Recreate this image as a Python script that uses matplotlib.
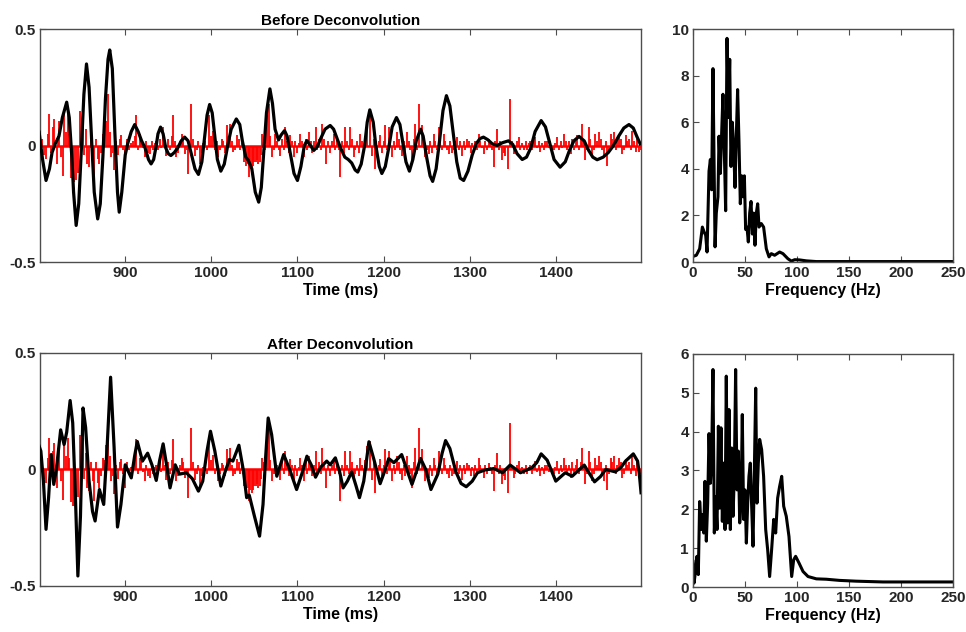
import numpy as np
import matplotlib.pyplot as plt

plt.rcParams['font.family'] = ['Liberation Sans', 'DejaVu Sans']
plt.rcParams['font.weight'] = 'bold'
plt.rcParams['axes.unicode_minus'] = False

# reflectivity spikes (ms, amplitude), same series in both panels
refl_t = [800.8, 807.8, 811.7, 815.6, 817.5, 820.2, 823.3, 827.2, 829.2, 833.1,
          837, 839, 841, 843, 845, 847.9, 850.6, 854.5, 855.3, 858.4,
          864.2, 870, 873.9, 877.8, 879.8, 883.7, 887.5, 895.3, 899.2, 909,
          912.8, 916.7, 922.6, 928.4, 936.2, 944, 947.9, 955.6, 959.5, 965.4,
          969.3, 973.2, 975.9, 980.9, 986.8, 992.6, 997.7, 1002.3, 1008.2, 1012.1,
          1017.9, 1021.8, 1025.7, 1029.6, 1037.4, 1040.5, 1043.2, 1045.1, 1047.1, 1049.8,
          1052.9, 1056, 1058.8, 1064.6, 1066.5, 1070.4, 1074.3, 1080.2, 1086, 1091.8,
          1095.7, 1103.5, 1107.4, 1113.2, 1121, 1128.8, 1132.7,
          1141.9, 1149.6, 1155.4, 1161.2, 1165.1, 1172.9, 1180.6, 1183.7, 1186.4, 1190.3,
          1196.1, 1201.9, 1205.8, 1209.7, 1215.5, 1221.3, 1227.1, 1232.9, 1236.8, 1241.5,
          1244.6, 1248.4, 1252.3, 1258.1, 1264, 1269.8, 1275.6, 1281.4, 1285.3, 1291.1,
          1296.9, 1304.7, 1310.5, 1316.3, 1322.1, 1327.9, 1331.8, 1337.6, 1341.5, 1344.6,
          1346.5, 1351.2, 1357, 1362.8, 1370.5, 1376.4, 1382.2, 1389.9, 1395.7, 1401.6,
          1409.3, 1417.1, 1424.8, 1430.6, 1434.5, 1438.4, 1442.2, 1446.1, 1450, 1455.8,
          1459.7, 1463.6, 1467.4, 1473.3, 1477.1, 1481, 1488.8, 1492.6, 1496.5]
refl_a = [-0.029, -0.06, 0.136, 0.079, 0.114, -0.079, 0.107, -0.129, 0.136, 0.136,
          -0.14, -0.157, -0.157, -0.15, -0.12, 0.15, 0.136, 0.07, -0.08, -0.093,
          -0.136, -0.079, 0.05, 0.107, 0.221, -0.05, -0.107, 0.043, -0.079, 0.021,
          0.129, 0.05, -0.05, -0.036, 0.021, 0.079, -0.043, 0.129, -0.05, 0.05,
          -0.036, -0.121, 0.179, -0.043, -0.079, 0.021, 0.129, 0.064, -0.05, 0.029,
          0.086, 0.093, -0.029, 0.043, -0.07, -0.09, -0.136, -0.09, -0.1, -0.07,
          -0.064, -0.07, 0.05, 0.129, 0.179, -0.05, 0.05, -0.043, 0.079, 0.043,
          -0.05, 0.05, -0.05, 0.057, 0.079, 0.093, -0.079,
          0.05, -0.136, 0.079, 0.079, -0.05, 0.05, 0.1, 0.121, -0.043, -0.1,
          0.043, 0.086, 0.079, -0.05, 0.057, -0.043, 0.057, -0.079, 0.093, 0.179,
          0.086, -0.05, -0.036, 0.05, 0.079, 0.05, -0.036, -0.021, 0.036, -0.043,
          0.029, -0.029, 0.05, -0.036, 0.029, -0.093, 0.071, -0.064, -0.043, -0.1,
          0.2, -0.036, 0.036, -0.021, 0.021, 0.036, -0.029, 0.021, -0.021, 0.036,
          0.05, -0.036, 0.043, 0.093, -0.064, 0.079, -0.05, 0.05, 0.057, -0.05,
          -0.086, 0.05, 0.057, 0.05, -0.036, 0.043, 0.064, -0.029, -0.029]

# the smaller spikes between the ones above
refl_small = [(803, 0.03), (805.5, -0.04), (809.8, 0.05), (813.6, -0.03), (821.8, 0.04),
              (825.2, -0.05), (831.2, 0.06), (835, 0.05), (852.5, -0.04), (860.5, 0.03),
              (862.3, -0.05), (866, 0.03), (868, -0.06), (872, -0.03), (875.8, 0.04),
              (881.8, 0.06), (885.6, -0.03), (889.5, 0.02), (891.5, -0.04), (893.4, 0.03),
              (897.2, -0.02), (901.5, 0.03), (904, -0.02), (906.5, 0.01), (911, 0.04),
              (914.8, -0.02), (918.7, 0.03), (920.6, -0.01), (924.5, 0.02), (926.5, -0.03),
              (930.5, 0.02), (932.3, -0.02), (934.3, 0.01), (938.2, -0.02), (940.2, 0.03),
              (942, -0.01), (946, 0.02), (950, 0.03), (952, -0.02), (953.8, 0.04),
              (957.5, 0.02), (961.5, -0.03), (963.5, 0.02), (967.3, 0.03), (971.2, -0.02),
              (978.4, 0.03), (983, -0.02), (985, 0.02), (988.8, -0.03), (990.7, 0.01),
              (995, -0.02), (1000, 0.04), (1004.3, -0.02), (1006.3, 0.02), (1010.1, -0.02),
              (1014, 0.02), (1016, -0.03), (1019.8, 0.04), (1023.7, 0.02), (1027.6, -0.02),
              (1031.6, 0.03), (1033.6, -0.02), (1035.5, 0.01), (1039, -0.05), (1042, -0.08),
              (1048.5, -0.09), (1051.3, -0.07), (1054.5, -0.08), (1057.4, -0.04), (1060.7, 0.03),
              (1062.6, -0.02), (1068.5, 0.04), (1072.3, -0.02), (1076.3, 0.02), (1078.2, -0.02),
              (1082.2, 0.03), (1084, -0.02), (1088, 0.02), (1090, -0.03), (1093.7, 0.02),
              (1097.7, 0.02), (1099.7, -0.03), (1101.6, 0.01), (1105.5, 0.02), (1109.4, 0.03),
              (1111.3, -0.02), (1115.2, 0.02), (1117.2, -0.03), (1119.1, 0.02), (1123, -0.02),
              (1125, 0.03), (1126.9, -0.02), (1130.8, 0.03), (1135, 0.02), (1137.3, -0.03),
              (1139.6, 0.02), (1144, -0.02), (1146, 0.03), (1148, -0.02), (1151.5, 0.02),
              (1153.5, -0.03), (1157.3, 0.02), (1159.3, -0.02), (1163.2, 0.03), (1167, -0.02),
              (1169, 0.02), (1171, -0.03), (1175, 0.02), (1177, -0.02), (1178.8, 0.04),
              (1188.4, 0.03), (1192.3, -0.02), (1194.2, 0.02), (1198, -0.03), (1200, 0.02),
              (1203.8, -0.02), (1207.8, 0.03), (1211.6, 0.02), (1213.6, -0.02), (1217.5, 0.03),
              (1219.4, -0.02), (1223.3, 0.02), (1225.2, -0.03), (1229, 0.02), (1231, -0.02),
              (1234.8, 0.03), (1239.2, -0.02), (1246.5, 0.02), (1250.4, -0.02), (1254.3, 0.02),
              (1256.2, -0.03), (1260, 0.02), (1262, -0.02), (1266, 0.03), (1268, -0.02),
              (1271.8, 0.02), (1273.7, -0.02), (1277.6, 0.02), (1279.5, -0.03), (1283.3, 0.02),
              (1287.3, -0.02), (1289.2, 0.02), (1293, 0.02), (1295, -0.02), (1299, 0.02),
              (1301, -0.03), (1303, 0.01), (1306.6, 0.02), (1308.6, -0.02), (1312.5, 0.02),
              (1314.4, -0.01), (1318.2, 0.02), (1320.2, -0.02), (1324, 0.01), (1326, -0.02),
              (1329.8, 0.02), (1333.7, -0.02), (1335.7, 0.02), (1339.5, -0.03), (1348.8, 0.02),
              (1353, -0.02), (1355, 0.02), (1359, -0.02), (1361, 0.01), (1365, 0.02),
              (1367, -0.02), (1369, 0.01), (1372.5, -0.02), (1374.5, 0.02), (1378.3, -0.01),
              (1380.3, 0.02), (1384.3, 0.01), (1386.3, -0.02), (1388, 0.02), (1391.8, -0.01),
              (1393.8, 0.02), (1397.6, -0.02), (1399.6, 0.01), (1403.6, -0.02), (1405.5, 0.02),
              (1407.4, -0.01), (1411.3, 0.02), (1413.3, -0.02), (1415.2, 0.02), (1419, 0.03),
              (1421, -0.02), (1423, 0.02), (1426.8, -0.02), (1428.7, 0.03), (1432.5, 0.02),
              (1436.5, -0.02), (1440.3, 0.03), (1444.2, -0.02), (1448, 0.02), (1452, 0.03),
              (1454, -0.02), (1457.8, 0.02), (1461.7, -0.02), (1465.5, 0.03), (1469.4, -0.02),
              (1471.4, 0.02), (1475.2, 0.03), (1479, -0.02), (1483, 0.02), (1485, 0.03),
              (1487, -0.02), (1490.7, 0.02), (1494.5, 0.03), (1498.5, -0.02)]

# seismic trace before deconvolution
before_t = [800, 804, 808, 812, 815, 819, 823, 827, 832, 835, 838, 840, 843, 846, 849, 852,
            855, 858, 861, 864, 868, 871, 874, 877, 880, 882, 885, 888, 891, 893, 896, 900,
            903, 907, 911, 915, 919, 923, 927, 930, 933, 936, 938, 941, 944, 947, 950, 953,
            957, 961, 965, 969, 973, 977, 981, 985, 989, 992, 995, 998, 1001, 1004, 1007, 1011,
            1015, 1019, 1023, 1029, 1033, 1036, 1040, 1043, 1047, 1051, 1055, 1058, 1061, 1064,
            1068, 1071, 1074, 1078, 1081, 1085, 1088, 1092, 1096, 1100, 1104, 1108, 1111, 1115,
            1119, 1123, 1127, 1132, 1138, 1142, 1146, 1150, 1155, 1159, 1163, 1167, 1170, 1174,
            1178, 1181, 1184, 1188, 1191, 1195, 1198, 1202, 1206, 1210, 1215, 1219, 1222, 1226,
            1230, 1234, 1238, 1243, 1246, 1250, 1254, 1257, 1261, 1265, 1269, 1273, 1277, 1281,
            1285, 1289, 1293, 1298, 1303, 1308, 1312, 1316, 1321, 1326, 1332, 1338, 1345, 1350,
            1355, 1361, 1366, 1371, 1376, 1383, 1388, 1393, 1398, 1405, 1411, 1416, 1421, 1427,
            1433, 1438, 1443, 1448, 1455, 1461, 1467, 1473, 1479, 1485, 1490, 1494, 1498]
before_v = [0.057, -0.06, -0.15, -0.10, -0.03, 0.01, 0.04, 0.12, 0.186, 0.12, -0.05, -0.2,
            -0.343, -0.25, -0.02, 0.22, 0.35, 0.25, 0.02, -0.2, -0.315, -0.25, -0.05, 0.2,
            0.37, 0.41, 0.33, 0.05, -0.2, -0.286, -0.2, -0.04, 0.01, 0.06, 0.09, 0.06,
            0.02, -0.01, -0.06, -0.079, -0.06, 0.0, 0.05, 0.079, 0.05, -0.01, -0.035, -0.043,
            -0.03, -0.01, 0.02, 0.036, 0.02, -0.04, -0.1, -0.124, -0.07, 0.03, 0.13, 0.176,
            0.14, 0.04, -0.06, -0.11, -0.08, 0.0, 0.07, 0.114, 0.09, 0.02, -0.05, -0.064,
            -0.1, -0.2, -0.243, -0.18, -0.02, 0.14, 0.243, 0.18, 0.07, 0.024, 0.045, 0.064,
            0.04, -0.04, -0.12, -0.15, -0.09, 0.0, 0.021, 0.0, -0.021, -0.005, 0.03, 0.07,
            0.086, 0.07, 0.03, -0.01, -0.05, -0.06, -0.075, -0.105, -0.114, -0.08, 0.0, 0.1,
            0.153, 0.1, 0.0, -0.09, -0.12, -0.09, -0.01, 0.08, 0.12, 0.09, 0.02, -0.07,
            -0.11, -0.06, 0.02, 0.07, 0.04, -0.05, -0.13, -0.154, -0.1, 0.02, 0.15, 0.214,
            0.17, 0.05, -0.07, -0.14, -0.15, -0.11, -0.04, 0.01, 0.03, 0.036, 0.025, 0.008,
            0.0, 0.012, 0.02, 0.005, -0.035, -0.06, -0.05, -0.01, 0.06, 0.107, 0.08, 0.01,
            -0.06, -0.093, -0.07, -0.02, 0.02, 0.039, 0.02, -0.02, -0.05, -0.061, -0.05, -0.03,
            0.0, 0.04, 0.075, 0.09, 0.075, 0.04, 0.007]

# seismic trace after deconvolution
after_t = [800, 802, 805, 808, 811, 814, 817, 820, 825, 829, 832, 836, 839, 842, 845, 848,
           851, 854, 858, 862, 865, 870, 875, 879, 883, 887, 891, 895, 900, 907, 911, 914,
           920, 926, 931, 936, 940, 944, 948, 952, 958, 963, 971, 978, 985, 990, 995, 999,
           1004, 1011, 1016, 1021, 1025, 1032, 1037, 1041, 1044, 1050, 1056, 1060, 1063, 1066,
           1070, 1076, 1084, 1091, 1099, 1105, 1111, 1116, 1121, 1127, 1134, 1138, 1144, 1149,
           1153, 1158, 1163, 1168, 1172, 1177, 1183, 1189, 1196, 1201, 1206, 1212, 1221, 1227,
           1233, 1238, 1243, 1249, 1255, 1263, 1268, 1272, 1277, 1284, 1290, 1296, 1303, 1309,
           1318, 1328, 1338, 1347, 1359, 1372, 1378, 1383, 1390, 1400, 1411, 1419, 1426, 1433,
           1445, 1452, 1458, 1469, 1476, 1481, 1490, 1495, 1497, 1499]
after_v = [0.10, 0.079, -0.05, -0.257, -0.12, 0.064, -0.064, 0.0, 0.17, 0.107, 0.16, 0.296,
           0.2, -0.1, -0.457, -0.2, 0.264, 0.18, -0.05, -0.18, -0.221, -0.086, -0.15, 0.1,
           0.396, 0.1, -0.247, -0.15, 0.02, -0.036, 0.06, 0.12, 0.036, 0.07, 0.02, -0.047,
           0.04, 0.11, 0.02, -0.079, 0.02, -0.02, -0.014, -0.04, -0.093, -0.05, 0.08, 0.164,
           0.08, -0.071, -0.01, 0.043, 0.036, 0.104, 0.0, -0.121, -0.11, -0.2, -0.286, -0.15,
           0.05, 0.221, 0.15, -0.029, 0.064, 0.0, -0.086, -0.02, 0.057, 0.02, -0.033, 0.01,
           0.036, 0.02, 0.05, -0.01, -0.079, -0.05, -0.01, -0.07, -0.121, -0.05, 0.119, 0.04,
           -0.061, -0.01, 0.047, 0.029, 0.064, 0.0, -0.064, -0.01, 0.047, 0.0, -0.086, -0.02,
           0.07, 0.124, 0.09, -0.01, -0.06, -0.074, -0.05, -0.014, -0.002, 0.004, -0.014, 0.019,
           -0.014, 0.007, 0.03, 0.067, 0.04, -0.05, -0.014, -0.029, -0.005, 0.019, -0.053, -0.03,
           0.0, -0.01, 0.01, 0.036, 0.067, 0.036, -0.02, -0.1]

# amplitude spectra
spec1_f = [0, 3.2, 6.4, 9, 10.6, 12.2, 13.5, 15.4, 16.7, 17.9, 19.2, 21.2, 22.4, 24, 25,
           26.3, 27.6, 28.8, 30.1, 31.4, 32.7, 34, 35.3, 36.5, 37.8, 39.1, 40.4, 41.7, 42.9,
           44.2, 45.5, 46.8, 48.1, 49.4, 50.6, 51.9, 53.2, 54.5, 55.8, 57.1, 58.3, 59.6, 60.9,
           62.2, 63.5, 65.7, 67.9, 70.5, 73.1, 75.3, 78.5, 83.3, 86.5, 91.3, 94.6, 97.8,
           102.6, 109, 118.6, 150.6, 250]
spec1_a = [0.24, 0.29, 0.57, 1.5, 1.3, 1.15, 0.43, 3.9, 4.4, 3.1, 8.3, 0.65, 2.1, 2.8, 5.4,
           3.8, 5.6, 7.2, 4.8, 2.2, 9.6, 6.2, 8.7, 4.1, 6.0, 4.9, 3.2, 5.5, 7.4,
           5.2, 2.5, 3.7, 2.8, 3.7, 1.4, 1.5, 0.86, 2.1, 2.6, 1.2, 2.1, 0.72, 2.1,
           2.5, 1.5, 1.65, 1.5, 0.57, 0.22, 0.36, 0.29, 0.43, 0.36, 0.14, 0.04, 0.1,
           0.09, 0.05, 0.02, 0.02, 0.02]

spec2_f = [0, 1, 2.2, 3.8, 5.1, 6.4, 8, 9, 10.3, 11.5, 12.8, 14.1, 15.4, 16.7, 17.9, 19.2,
           20.5, 21.8, 23.1, 24.4, 25.6, 26.9, 28.2, 29.5, 30.8, 32, 33.3, 34.6, 35.9, 37.2,
           38.5, 39.7, 41, 42.3, 43.6, 44.9, 46.2, 47.4, 48.7, 50, 51.3, 52.6, 53.8, 55.1,
           56.4, 57.7, 59, 60.3, 61.5, 62.8, 64.1, 66, 67.9, 69.9, 71.8, 73.7, 75.6, 77.6,
           79.5, 81.4, 83.3, 85.3, 87.2, 89.7, 92.3, 94.9, 96.8, 98.7, 101.9, 105.8, 110.6,
           118.6, 128.2, 141, 157, 182.7, 214.7, 250]
spec2_a = [0.66, 0.1, 0.36, 0.79, 0.32, 2.2, 1.48, 1.86, 1.39, 2.72, 1.18, 2.15, 3.95, 2.67,
           3.27, 5.6, 1.39, 2.33, 1.48, 4.14, 2.03, 4.1, 1.69, 3.19, 1.48, 5.43, 1.65, 4.57,
           1.48, 3.58, 1.82, 2.85, 5.6, 2.5, 3.5, 1.65, 2.16, 4.44, 1.74, 2.5, 1.13, 2.16,
           2.85, 3.19, 2.08, 1.05, 3.0, 5.12, 2.16, 3.19, 3.8, 3.54, 2.85, 1.48, 0.96, 0.27,
           0.96, 1.74, 1.39, 2.29, 2.59, 2.85, 2.08, 1.82, 1.3, 0.27, 0.7, 0.79, 0.62, 0.4,
           0.27, 0.21, 0.2, 0.17, 0.15, 0.13, 0.13, 0.13]

small_t = [p[0] for p in refl_small]
small_a = [p[1] for p in refl_small]

fig = plt.figure(figsize=(9.66, 6.32), dpi=100)
axc = '#4d4d4d'


def style(ax):
    for s in ax.spines.values():
        s.set_color(axc)
        s.set_linewidth(1.0)
    ax.tick_params(direction='in', top=True, right=False, length=4, color=axc,
                   labelsize=11, pad=3)
    for lab in ax.get_xticklabels() + ax.get_yticklabels():
        lab.set_fontweight('bold')
        lab.set_color('#262626')


def trace_panel(ax, t, v, title):
    ax.vlines(refl_t, 0, refl_a, color='red', lw=1.3, zorder=2)
    ax.vlines(small_t, 0, small_a, color='red', lw=1.3, zorder=2)
    ax.axhline(0, color='red', lw=1.8, zorder=2)
    ax.plot(t, v, color='black', lw=2.3, zorder=3)
    ax.set_xlim(801, 1499)
    ax.set_ylim(-0.5, 0.5)
    ax.set_xticks([900, 1000, 1100, 1200, 1300, 1400])
    ax.set_yticks([-0.5, 0, 0.5])
    ax.set_yticklabels(['-0.5', '0', '0.5'])
    ax.set_xlabel('Time (ms)', fontsize=11.5, fontweight='bold', labelpad=2)
    ax.set_title(title, fontsize=11, fontweight='bold', pad=3)
    style(ax)


def spec_panel(ax, f, a, ymax, yt):
    ax.plot(f, a, color='black', lw=2.2)
    ax.set_xlim(0, 250)
    ax.set_ylim(0, ymax)
    ax.set_xticks([0, 50, 100, 150, 200, 250])
    ax.set_yticks(yt)
    ax.set_xlabel('Frequency (Hz)', fontsize=11.5, fontweight='bold', labelpad=2)
    style(ax)


ax1 = fig.add_axes([0.0414, 0.5854, 0.6222, 0.3687])
trace_panel(ax1, before_t, before_v, 'Before Deconvolution')
ax2 = fig.add_axes([0.0414, 0.0728, 0.6222, 0.3687])
trace_panel(ax2, after_t, after_v, 'After Deconvolution')
ax3 = fig.add_axes([0.7174, 0.5854, 0.2691, 0.3687])
spec_panel(ax3, spec1_f, spec1_a, 10, [0, 2, 4, 6, 8, 10])
ax4 = fig.add_axes([0.7174, 0.0712, 0.2691, 0.3687])
spec_panel(ax4, spec2_f, spec2_a, 6, [0, 1, 2, 3, 4, 5, 6])

fig.savefig('out.png', dpi=100)
